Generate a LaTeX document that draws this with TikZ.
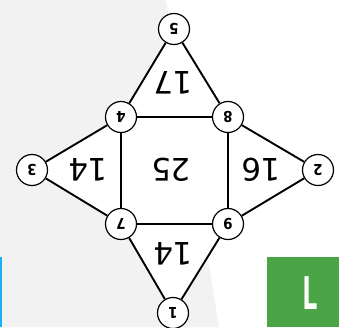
\documentclass[tikz,border=0pt]{standalone}
\usepackage{fontspec}
\usetikzlibrary{backgrounds}
\newfontfamily\numfont{DejaVu Sans}
\newfontfamily\lblfont{DejaVu Sans Condensed Bold}
\newfontfamily\logofont{Open Sans}
\definecolor{bggray}{HTML}{F2F2F2}
\definecolor{logogreen}{HTML}{4BA546}
\definecolor{barblue}{HTML}{1AB2F2}
\tikzset{
  vtx/.style={circle, draw=black, line width=1.2pt, fill=white, minimum size=31pt, inner sep=0pt, font=\lblfont\fontsize{15}{15}\selectfont, rotate=180},
  edge/.style={line width=1.9pt, black},
  facenum/.style={font=\numfont\fontsize{31}{31}\selectfont, rotate=180, inner sep=0pt}
}
\begin{document}
\begin{tikzpicture}[x=1pt, y=-1pt]
\useasboundingbox (0,0) rectangle (351,327);
% vertices
\node[vtx] (n5) at (174,29) {5};
\node[vtx] (n4) at (121,117) {4};
\node[vtx] (n8) at (228,117) {8};
\node[vtx] (n3) at (32,170) {3};
\node[vtx] (n2) at (318,170) {2};
\node[vtx] (n7) at (121,224) {7};
\node[vtx] (n9) at (228,224) {9};
\node[vtx] (n1) at (173,313) {1};
\begin{scope}[on background layer]
  \fill[bggray] (0,0) -- (166,0) -- (219,327) -- (0,327) -- cycle;
  \fill[white] (n5.center) -- (n8.center) -- (n2.center) -- (n9.center) -- (n1.center) -- (n7.center) -- (n3.center) -- (n4.center) -- cycle;
\end{scope}
% edges
\draw[edge] (n5) -- (n4);
\draw[edge] (n5) -- (n8);
\draw[edge] (n4) -- (n8);
\draw[edge] (n4) -- (n3);
\draw[edge] (n4) -- (n7);
\draw[edge] (n3) -- (n7);
\draw[edge] (n8) -- (n2);
\draw[edge] (n8) -- (n9);
\draw[edge] (n2) -- (n9);
\draw[edge] (n7) -- (n9);
\draw[edge] (n7) -- (n1);
\draw[edge] (n9) -- (n1);
% face numbers
\node[facenum] (f17) at (173,83) {17};
\node[facenum] (f14a) at (88,170) {14};
\node[facenum] (f25) at (171,170) {25};
\node[facenum] (f16) at (261,170) {16};
\node[facenum] (f14b) at (173,254) {14};
% decorations
\fill[barblue] (0,257) rectangle (2,327);
\node[fill=logogreen, minimum width=72pt, minimum height=70pt, inner sep=0pt, anchor=north west] (logo) at (267,257) {};
\node[text=white, font=\logofont\bfseries\fontsize{46}{46}\selectfont, inner sep=0pt] (logotext) at (310,293) {\scalebox{0.6}[1]{L}};
\end{tikzpicture}
\end{document}
